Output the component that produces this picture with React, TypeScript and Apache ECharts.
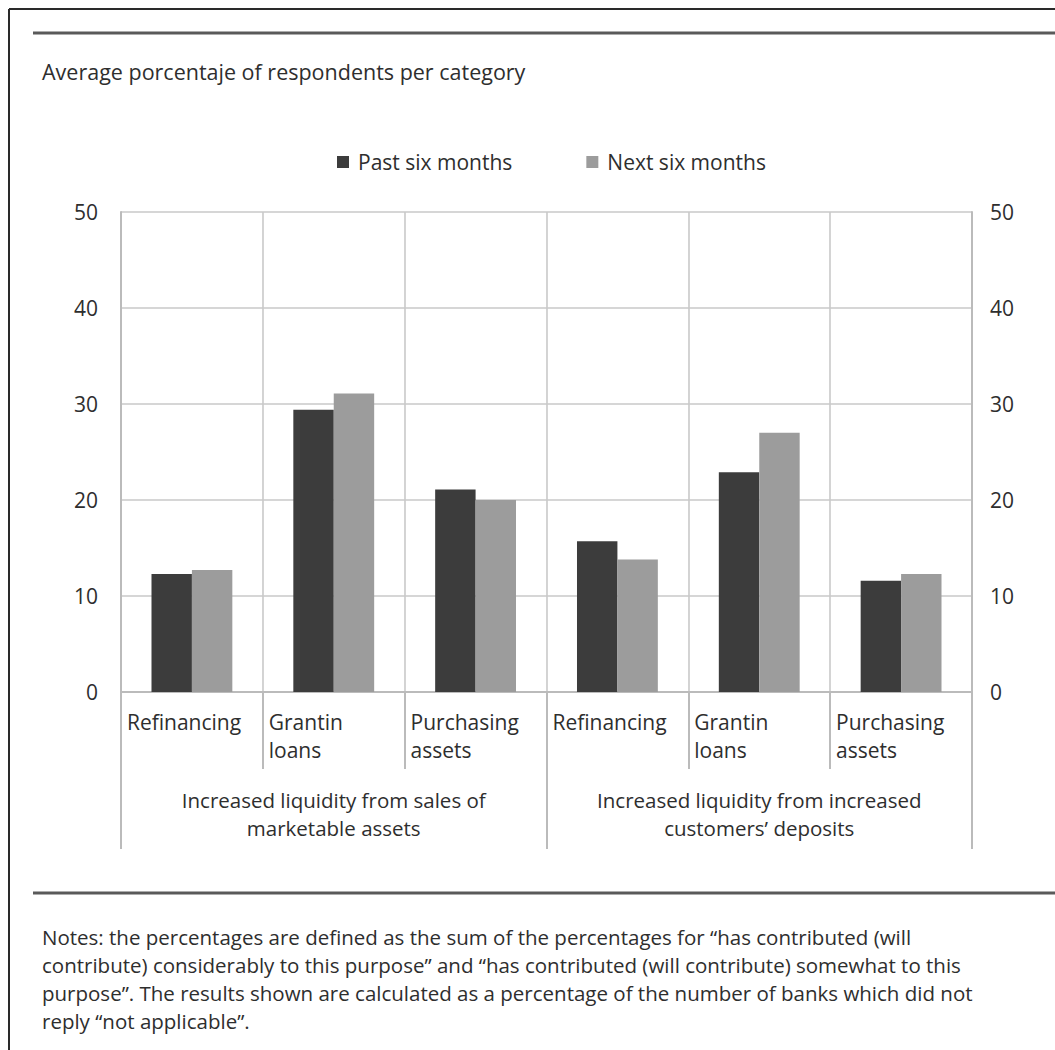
import React, { useEffect, useRef } from "react";
import * as echarts from "echarts";

const categories = [
  "Refinancing",
  "Grantin loans",
  "Purchasing assets",
  "Refinancing",
  "Grantin loans",
  "Purchasing assets",
];
const groups = [
  "Increased liquidity from sales of\nmarketable assets",
  "Increased liquidity from increased\ncustomers’ deposits",
];
const seriesNames = ["Past six months", "Next six months"];
const pastSix = [12.3, 29.4, 21.1, 15.7, 22.9, 11.6];
const nextSix = [12.7, 31.1, 20.0, 13.8, 27.0, 12.3];
const yMin = 0;
const yMax = 50;
const yStep = 10;
const titleText = "Average porcentaje of respondents per category";
const notesLines = [
  "Notes: the percentages are defined as the sum of the percentages for “has contributed (will",
  "contribute) considerably to this purpose” and “has contributed (will contribute) somewhat to this",
  "purpose”. The results shown are calculated as a percentage of the number of banks which did not",
  "reply “not applicable”.",
];

const FONT = "'Open Sans', 'Noto Sans', sans-serif";
const TXT = "#2e2e2e";
const GRID = "#c9c9c9";
const AXIS = "#bbbbbb";

export default function App() {
  const ref = useRef<HTMLDivElement>(null);
  useEffect(() => {
    const chart = echarts.init(ref.current!, null, { renderer: "svg" });
    const yAxisBase = {
      type: "value",
      min: yMin,
      max: yMax,
      interval: yStep,
      axisLine: { show: true, lineStyle: { color: AXIS, width: 2 } },
      axisTick: { show: false },
    };
    chart.setOption({
      animation: false,
      backgroundColor: "#ffffff",
      textStyle: { fontFamily: FONT },
      title: {
        text: titleText,
        left: 42,
        top: 59,
        padding: 0,
        textStyle: {
          fontSize: 21.5,
          fontWeight: "normal",
          color: TXT,
          fontFamily: FONT,
          lineHeight: 24,
        },
      },
      legend: {
        data: seriesNames,
        left: 337,
        top: 150,
        padding: 0,
        icon: "rect",
        itemWidth: 12,
        itemHeight: 12,
        itemGap: 74,
        textStyle: {
          fontSize: 21,
          color: TXT,
          fontFamily: FONT,
          lineHeight: 24,
          padding: [0, 0, 0, 4],
        },
      },
      grid: { left: 121, right: 83, top: 212, bottom: 358, containLabel: false },
      xAxis: [
        {
          type: "category",
          data: categories,
          position: "bottom",
          axisLine: { show: true, lineStyle: { color: AXIS, width: 2 } },
          axisTick: {
            show: true,
            interval: 0,
            length: 77,
            lineStyle: { color: AXIS, width: 2 },
          },
          splitLine: {
            show: true,
            interval: 0,
            lineStyle: { color: GRID, width: 1.6 },
          },
          axisLabel: {
            interval: 0,
            margin: 16,
            fontSize: 21,
            lineHeight: 28,
            color: TXT,
            fontFamily: FONT,
            formatter: (v: string) =>
              v
                .split(" ")
                .map((w) => `{l|${w}}`)
                .join("\n"),
            rich: {
              l: {
                width: 130,
                align: "left",
                fontSize: 21,
                lineHeight: 28,
                color: TXT,
                fontFamily: FONT,
              },
            },
          },
        },
        {
          type: "category",
          data: groups,
          position: "bottom",
          axisLine: { show: false },
          axisTick: {
            show: true,
            interval: 0,
            length: 157,
            lineStyle: { color: AXIS, width: 2 },
          },
          splitLine: { show: false },
          axisLabel: {
            interval: 0,
            margin: 94,
            fontSize: 20.5,
            lineHeight: 28,
            color: TXT,
            fontFamily: FONT,
            align: "center",
          },
        },
      ],
      yAxis: [
        {
          ...yAxisBase,
          position: "left",
          splitLine: { show: true, lineStyle: { color: GRID, width: 1.6 } },
          axisLabel: { margin: 23, fontSize: 21, color: TXT, fontFamily: FONT },
        },
        {
          ...yAxisBase,
          position: "right",
          splitLine: { show: false },
          axisLabel: { margin: 18, fontSize: 21, color: TXT, fontFamily: FONT },
        },
      ],
      series: [
        {
          name: seriesNames[0],
          type: "bar",
          xAxisIndex: 0,
          yAxisIndex: 0,
          data: pastSix,
          barGap: "0%",
          barCategoryGap: "43%",
          itemStyle: { color: "#3c3c3c" },
        },
        {
          name: seriesNames[1],
          type: "bar",
          xAxisIndex: 0,
          yAxisIndex: 0,
          data: nextSix,
          barGap: "0%",
          barCategoryGap: "43%",
          itemStyle: { color: "#9c9c9c" },
        },
      ],
      graphic: [
        {
          type: "line",
          shape: { x1: 9, y1: 9, x2: 1055, y2: 9 },
          style: { stroke: "#2a2a2a", lineWidth: 2 },
        },
        {
          type: "line",
          shape: { x1: 9, y1: 9, x2: 9, y2: 1050 },
          style: { stroke: "#2a2a2a", lineWidth: 2 },
        },
        {
          type: "line",
          shape: { x1: 33, y1: 33, x2: 1055, y2: 33 },
          style: { stroke: "#5a5a5a", lineWidth: 3 },
        },
        {
          type: "line",
          shape: { x1: 33, y1: 893, x2: 1055, y2: 893 },
          style: { stroke: "#5a5a5a", lineWidth: 3 },
        },
        {
          type: "text",
          x: 42,
          y: 923,
          style: {
            text: notesLines.join("\n"),
            fontSize: 20.5,
            lineHeight: 28,
            fontFamily: FONT,
            fill: TXT,
            verticalAlign: "top",
          },
        },
      ],
    });
    return () => chart.dispose();
  }, []);
  return (
    <div
      ref={ref}
      style={{
        position: "absolute",
        left: 0,
        top: 0,
        width: 1055,
        height: 1050,
        background: "#fff",
      }}
    />
  );
}
